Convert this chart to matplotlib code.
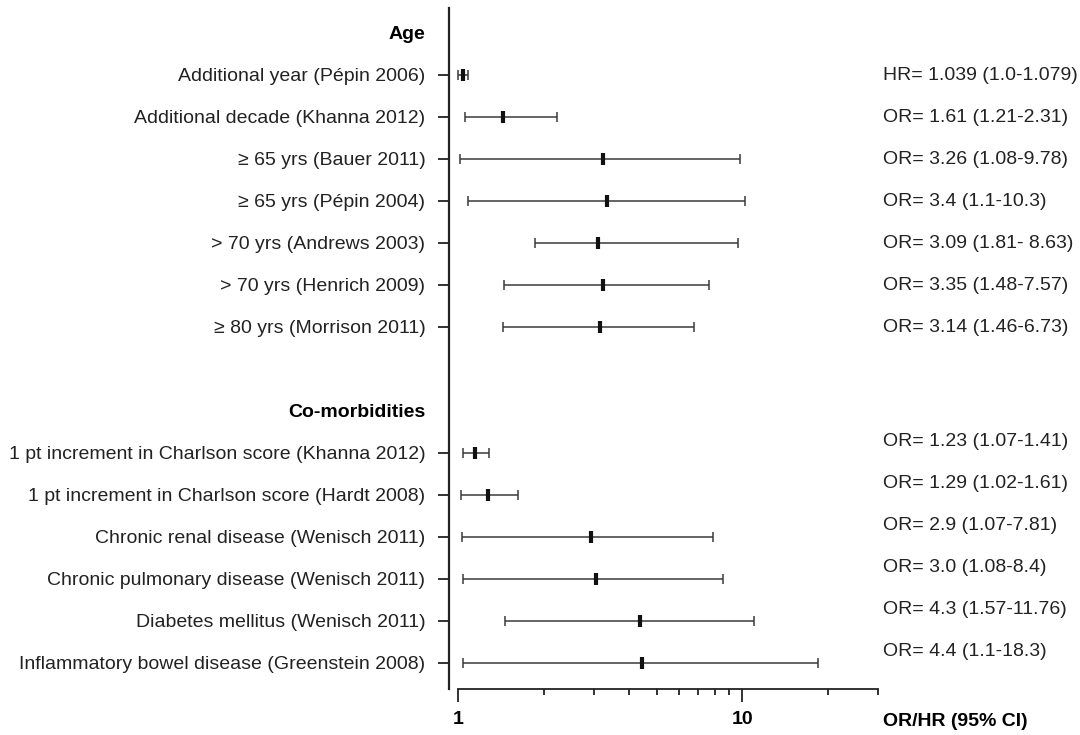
import matplotlib
matplotlib.use("Agg")
import matplotlib.pyplot as plt
import matplotlib.transforms as mtransforms
from matplotlib.ticker import NullFormatter

plt.rcParams['font.family'] = ['Liberation Sans', 'DejaVu Sans']

# groups and their rows (label, point estimate, lower CI, upper CI, text on the right)
group_names = ['Age', 'Co-morbidities']

age_labels = ['Additional year (Pépin 2006)', 'Additional decade (Khanna 2012)',
              '≥ 65 yrs (Bauer 2011)', '≥ 65 yrs (Pépin 2004)',
              '> 70 yrs (Andrews 2003)', '> 70 yrs (Henrich 2009)',
              '≥ 80 yrs (Morrison 2011)']
age_est = [1.039, 1.44, 3.23, 3.34, 3.11, 3.23, 3.15]
age_lo = [1.0, 1.054, 1.01, 1.08, 1.86, 1.45, 1.43]
age_hi = [1.079, 2.22, 9.83, 10.2, 9.62, 7.62, 6.77]
age_text = ['HR= 1.039 (1.0-1.079)', 'OR= 1.61 (1.21-2.31)', 'OR= 3.26 (1.08-9.78)',
            'OR= 3.4 (1.1-10.3)', 'OR= 3.09 (1.81- 8.63)', 'OR= 3.35 (1.48-7.57)',
            'OR= 3.14 (1.46-6.73)']

com_labels = ['1 pt increment in Charlson score (Khanna 2012)',
              '1 pt increment in Charlson score (Hardt 2008)',
              'Chronic renal disease (Wenisch 2011)',
              'Chronic pulmonary disease (Wenisch 2011)',
              'Diabetes mellitus (Wenisch 2011)',
              'Inflammatory bowel disease (Greenstein 2008)']
com_est = [1.146, 1.27, 2.93, 3.05, 4.36, 4.42]
com_lo = [1.035, 1.02, 1.03, 1.04, 1.46, 1.035]
com_hi = [1.28, 1.62, 7.87, 8.54, 10.97, 18.5]
com_text = ['OR= 1.23 (1.07-1.41)', 'OR= 1.29 (1.02-1.61)', 'OR= 2.9 (1.07-7.81)',
            'OR= 3.0 (1.08-8.4)', 'OR= 4.3 (1.57-11.76)', 'OR= 4.4 (1.1-18.3)']

major_ticks = [1, 10]
minor_ticks = [2, 3, 4, 5, 6, 7, 8, 9, 20, 30]

groups = [
    (age_labels, age_est, age_lo, age_hi, age_text, 0.02),
    (com_labels, com_est, com_lo, com_hi, com_text, -0.28),
]

fig = plt.figure(figsize=(10.8, 7.35), dpi=100)
ax = fig.add_axes([449 / 1080, 1 - 689 / 735, 429 / 1080, 681 / 735])

lab_tr = mtransforms.blended_transform_factory(fig.transFigure, ax.transData)
text_x = 883 / 1080
head_x = 425 / 1080

ypos = []
ylabels = []
row = 0
for gi, (labels, est, lo, hi, txt, shift) in enumerate(groups):
    ax.text(head_x, row + 0.03, group_names[gi], transform=lab_tr, ha='right',
            va='center', fontsize=14, fontweight='bold')
    row += 1
    ys = list(range(row, row + len(labels)))
    xerr = [[e - l for e, l in zip(est, lo)], [h - e for e, h in zip(est, hi)]]
    ax.errorbar(est, ys, xerr=xerr, fmt='none', ecolor='#3a3a3a', elinewidth=1.1,
                capsize=3.8, capthick=1.1)
    ax.plot(est, ys, linestyle='none', marker='|', markersize=8,
            markeredgewidth=3, color='#111111')
    for y, t in zip(ys, txt):
        ax.text(text_x, y + shift, t, transform=lab_tr, ha='left', va='center',
                fontsize=14, color='#222222')
    ypos += ys
    ylabels += labels
    row += len(labels) + 1

ax.set_xscale('log')
ax.set_xlim(0.926, 30)
ax.set_ylim(15.62, -0.595)

ax.set_yticks(ypos)
ax.set_yticklabels(ylabels, fontsize=14, color='#222222')
ax.tick_params(axis='y', direction='out', length=8, width=1.3, pad=9, color='#222222')

ax.set_xticks(major_ticks)
ax.set_xticklabels([str(v) for v in major_ticks], fontsize=14, fontweight='bold')
ax.set_xticks(minor_ticks, minor=True)
ax.xaxis.set_minor_formatter(NullFormatter())
ax.tick_params(axis='x', which='major', direction='out', length=9, width=1.3, pad=7,
               color='#222222')
ax.tick_params(axis='x', which='minor', direction='out', length=4.5, width=1.3,
               color='#222222')

for s in ['top', 'right']:
    ax.spines[s].set_visible(False)
ax.spines['left'].set_linewidth(1.6)
ax.spines['left'].set_color('#222222')
ax.spines['bottom'].set_linewidth(1.3)
ax.spines['bottom'].set_color('#222222')
ax.spines['bottom'].set_bounds(1, 30)

fig.text(text_x, 1 - 722 / 735, 'OR/HR (95% CI)', ha='left', va='center',
         fontsize=14, fontweight='bold')

fig.savefig('out.png', dpi=100)
